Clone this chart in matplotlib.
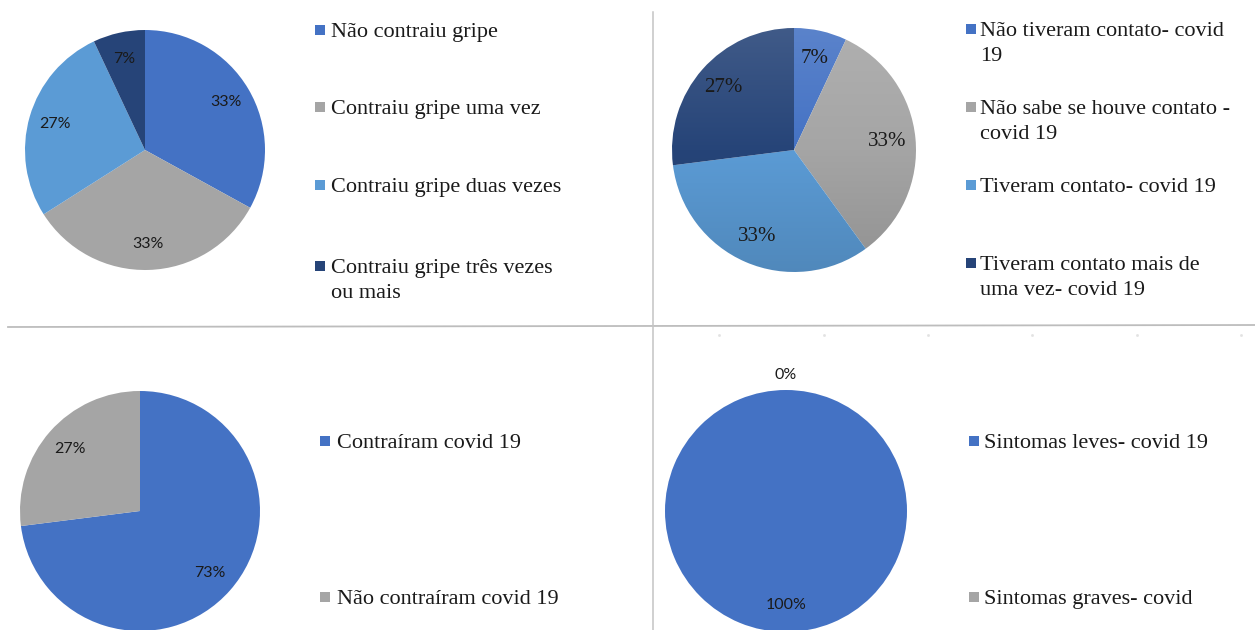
import numpy as np
import matplotlib
matplotlib.use("Agg")
import matplotlib.pyplot as plt
from matplotlib.colors import to_rgb, LinearSegmentedColormap
from matplotlib.patches import Rectangle
from matplotlib.lines import Line2D

W, H, DPI = 1255, 630, 100

# ---- data -----------------------------------------------------------------
gripe_labels = ["Não contraiu gripe", "Contraiu gripe uma vez",
                "Contraiu gripe duas vezes", "Contraiu gripe três vezes\nou mais"]
gripe_values = [33, 33, 27, 7]

contato_labels = ["Não tiveram contato- covid\n19", "Não sabe se houve contato -\ncovid 19",
                  "Tiveram contato- covid 19", "Tiveram contato mais de\numa vez- covid 19"]
contato_values = [7, 33, 33, 27]

covid_labels = ["Contraíram covid 19", "Não contraíram covid 19"]
covid_values = [73, 27]

sintomas_labels = ["Sintomas leves- covid 19", "Sintomas graves- covid"]
sintomas_values = [100, 0]

BLUE, GRAY, LIGHT, NAVY = "#4472C4", "#A5A5A5", "#5B9BD5", "#264478"

SERIF = ["Liberation Serif", "DejaVu Serif"]
SANS = ["Lato", "DejaVu Sans"]
TXT = "#1a1a1a"

fig = plt.figure(figsize=(W / DPI, H / DPI), dpi=DPI)
fig.patch.set_facecolor("white")


def px(x, y):
    return x / W, 1 - y / H


def pie_axes(cx, cy, r):
    return fig.add_axes([(cx - r) / W, 1 - (cy + r) / H, 2 * r / W, 2 * r / H])


def draw_pie(cx, cy, r, values, colors, pctdist, font, fsize,
             outside_zero=False, gradient=False):
    ax = pie_axes(cx, cy, r)
    wedges, _ = ax.pie(values, colors=colors, startangle=90, counterclock=False,
                       radius=1, wedgeprops=dict(linewidth=0))
    if gradient:
        grad = np.linspace(1, 0, 256).reshape(-1, 1)
        for w, c in zip(wedges, colors):
            base = np.array(to_rgb(c))
            top = base + (1 - base) * 0.12
            bottom = base * 0.88
            cmap = LinearSegmentedColormap.from_list("g", [bottom, base, top])
            w.set_facecolor("none")
            im = ax.imshow(grad, extent=(-1, 1, -1, 1), cmap=cmap,
                           vmin=0, vmax=1, aspect="auto", zorder=1)
            im.set_clip_path(w)
    for w, v in zip(wedges, values):
        mid = np.deg2rad((w.theta1 + w.theta2) / 2)
        d = pctdist if v > 0 or not outside_zero else 1.12
        ax.text(d * np.cos(mid), d * np.sin(mid), f"{v}%", ha="center", va="center",
                family=font, fontsize=fsize, color=TXT, zorder=3)
    ax.set_xlim(-1, 1)
    ax.set_ylim(-1, 1)
    ax.set_aspect("auto")
    ax.axis("off")
    return ax


def draw_legend(labels, colors, mx, tx, ys, msize=10, lh=25, fsize=16):
    for lab, c, y in zip(labels, colors, ys):
        x0, y0 = px(mx, y + msize / 2)
        fig.add_artist(Rectangle((x0, y0), msize / W, msize / H, transform=fig.transFigure,
                                 facecolor=c, edgecolor="none"))
        for i, line in enumerate(lab.split("\n")):
            fig.text(*px(tx, y + 7 + i * lh), line, ha="left", va="baseline",
                     family=SERIF, fontsize=fsize, color=TXT)


# ---- top left: flu ----------------------------------------------------------
c4 = [BLUE, GRAY, LIGHT, NAVY]
draw_pie(145, 150, 120, gripe_values, c4, 0.78, SANS, 11.5)
draw_legend(gripe_labels, c4, 315, 331, [30, 107, 185, 266])

# ---- top right: contact -----------------------------------------------------
draw_pie(794, 150, 122, contato_values, c4, 0.77, SERIF, 15, gradient=True)
draw_legend(contato_labels, c4, 966, 980, [29, 107, 185, 263])

# ---- bottom left: covid -----------------------------------------------------
c2 = [BLUE, GRAY]
draw_pie(140, 511, 120, covid_values, c2, 0.78, SANS, 11.5)
draw_legend(covid_labels, c2, 320, 337, [441, 597])

# ---- bottom right: symptoms ------------------------------------------------
draw_pie(786, 511, 121, sintomas_values, c2, 0.78, SANS, 11.5, outside_zero=True)
draw_legend(sintomas_labels, c2, 969, 984, [441, 597])

# ---- separators -------------------------------------------------------------
fig.add_artist(Line2D([8 / W, 1], [1 - 327 / H, 1 - 325 / H], transform=fig.transFigure,
                      color="#bdbdbd", linewidth=1.3))
fig.add_artist(Line2D([653 / W, 653 / W], [1 - 12 / H, 0], transform=fig.transFigure,
                      color="#c4c4c4", linewidth=1.1))
# faint tick dots under the separator in the lower right panel
for xd in [719, 824, 928, 1032, 1137, 1241]:
    fig.add_artist(Line2D([xd / W], [1 - 335 / H], transform=fig.transFigure,
                          marker="s", markersize=0.9, color="#e2e2e2", linestyle="none"))

fig.savefig("out.png", dpi=DPI, facecolor="white")
